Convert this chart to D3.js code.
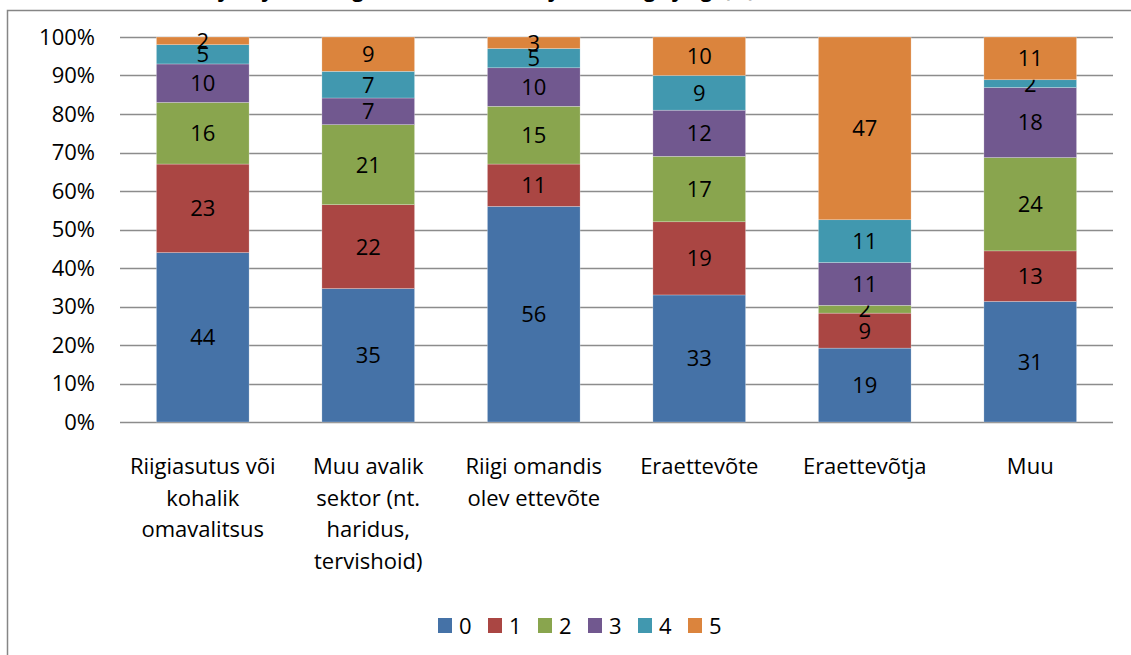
<!DOCTYPE html>
<html>
<head>
<meta charset="utf-8">
<script src="https://cdn.jsdelivr.net/npm/d3@7"></script>
<style>
  body { margin: 0; background: #fff; }
  svg { display: block; font-family: "Open Sans", Lato, sans-serif; }
</style>
</head>
<body>
<svg id="chart" width="1131" height="655"></svg>
<script>
// categories and series (percent labels)
var categories = [
  "Riigiasutus või kohalik omavalitsus",
  "Muu avalik sektor (nt. haridus, tervishoid)",
  "Riigi omandis olev ettevõte",
  "Eraettevõte",
  "Eraettevõtja",
  "Muu"
];
var catLines = [
  ["Riigiasutus või", "kohalik", "omavalitsus"],
  ["Muu avalik", "sektor (nt.", "haridus,", "tervishoid)"],
  ["Riigi omandis", "olev ettevõte"],
  ["Eraettevõte"],
  ["Eraettevõtja"],
  ["Muu"]
];
var seriesKeys = ["0", "1", "2", "3", "4", "5"];
var s0 = [44, 35, 56, 33, 19, 31];
var s1 = [23, 22, 11, 19, 9, 13];
var s2 = [16, 21, 15, 17, 2, 24];
var s3 = [10, 7, 10, 12, 11, 18];
var s4 = [5, 7, 5, 9, 11, 2];
var s5 = [2, 9, 3, 10, 47, 11];
var yTicks = [0, 0.1, 0.2, 0.3, 0.4, 0.5, 0.6, 0.7, 0.8, 0.9, 1];
var colors = ["#4572A7", "#AA4643", "#89A54E", "#71588F", "#4198AF", "#DB843D"];

var seriesVals = [s0, s1, s2, s3, s4, s5];
var data = categories.map(function(c, i) {
  var row = { category: c, idx: i };
  seriesKeys.forEach(function(k, j) { row[k] = seriesVals[j][i]; });
  return row;
});

var svg = d3.select("#chart");
var margin = {top: 37, left: 120, right: 18, bottom: 233};
var width = 1131 - margin.left - margin.right,
    height = 655 - margin.top - margin.bottom;

// cut-off title at the very top
svg.append("text")
  .attr("x", 755).attr("y", -3)
  .attr("text-anchor", "end")
  .style("font-weight", "bold")
  .style("font-size", "20px")
  .text("Tabel: vastajate jaotus organisatsiooni tüübi ja hinnangu järgi (%)");

// frame
svg.append("rect")
  .attr("x", 7.5).attr("y", 10.5)
  .attr("width", 1140).attr("height", 660)
  .attr("fill", "none")
  .attr("stroke", "#868686")
  .attr("stroke-width", 1.5);

var g = svg.append("g").attr("transform", "translate(" + margin.left + "," + margin.top + ")");

var x = d3.scaleBand().domain(categories).range([0, width]).paddingInner(0.44).paddingOuter(0.22);
var y = d3.scaleLinear().domain([0, 1]).range([height, 0]);
var z = d3.scaleOrdinal().domain(seriesKeys).range(colors);

// gridlines
g.append("g").selectAll("line")
  .data(yTicks)
  .enter().append("line")
    .attr("x1", 0).attr("x2", width)
    .attr("y1", function(d) { return Math.round(y(d)) + 0.5; })
    .attr("y2", function(d) { return Math.round(y(d)) + 0.5; })
    .attr("stroke", "#8c8c8c")
    .attr("stroke-width", 1.5);

// y axis labels
var yAxis = g.append("g")
  .call(d3.axisLeft(y).tickValues(yTicks).tickFormat(d3.format(".0%")).tickSize(0).tickPadding(25));
yAxis.select(".domain").remove();
yAxis.selectAll("text").style("font-size", "22px").style("fill", "#000").style("font-family", "'Open Sans', sans-serif");

var stack = d3.stack().keys(seriesKeys).offset(d3.stackOffsetExpand);
var layers = stack(data);

var serie = g.selectAll(".serie")
  .data(layers)
  .enter().append("g")
    .attr("class", "serie")
    .attr("fill", function(d) { return z(d.key); });

serie.selectAll("rect")
  .data(function(d) { return d; })
  .enter().append("rect")
    .attr("x", function(d) { return x(d.data.category); })
    .attr("y", function(d) { return y(d[1]); })
    .attr("height", function(d) { return y(d[0]) - y(d[1]); })
    .attr("width", x.bandwidth())
    .attr("stroke", "#fff")
    .attr("stroke-opacity", 0.5)
    .attr("stroke-width", 0.5);

// value labels
serie.selectAll("text")
  .data(function(d) { return d.map(function(p) { return {p: p, key: d.key}; }); })
  .enter().append("text")
    .attr("x", function(d) { return x(d.p.data.category) + x.bandwidth() / 2; })
    .attr("y", function(d) { return (y(d.p[0]) + y(d.p[1])) / 2; })
    .attr("dy", "0.36em")
    .attr("text-anchor", "middle")
    .attr("fill", "#000")
    .style("font-size", "22px")
    .text(function(d) { return d.p.data[d.key]; });

// category labels
var xl = g.append("g").attr("transform", "translate(0," + height + ")");
xl.selectAll("text")
  .data(data)
  .enter().append("text")
    .attr("x", function(d) { return x(d.category) + x.bandwidth() / 2; })
    .attr("y", 52)
    .attr("text-anchor", "middle")
    .style("font-size", "22px")
    .each(function(d) {
      var t = d3.select(this);
      catLines[d.idx].forEach(function(line, i) {
        t.append("tspan")
          .attr("x", x(d.category) + x.bandwidth() / 2)
          .attr("dy", i === 0 ? 0 : 31.5)
          .text(line);
      });
    });

// legend
var legend = svg.append("g").attr("transform", "translate(438,618)");
var item = legend.selectAll(".legend")
  .data(seriesKeys)
  .enter().append("g")
    .attr("class", "legend")
    .attr("transform", function(d, i) { return "translate(" + i * 50 + ",0)"; });
item.append("rect")
  .attr("width", 14).attr("height", 15)
  .attr("fill", function(d) { return z(d); });
item.append("text")
  .attr("x", 21).attr("y", 8)
  .attr("dy", "0.36em")
  .style("font-size", "22px")
  .text(function(d) { return d; });
</script>
</body>
</html>
